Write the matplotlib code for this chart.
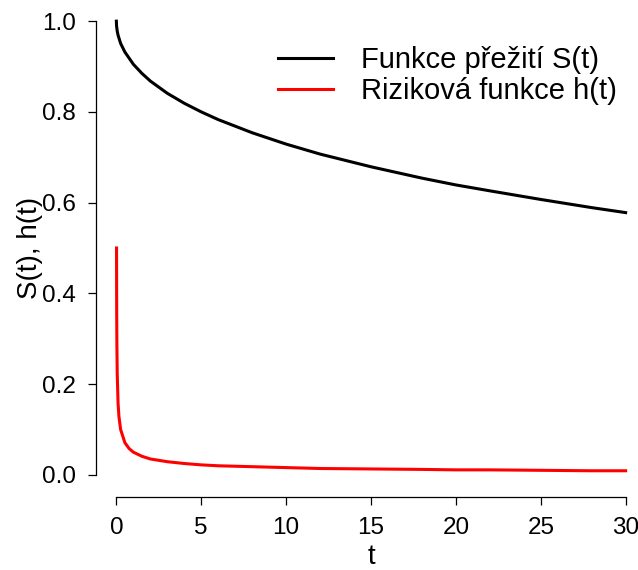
import matplotlib.pyplot as plt

# values
t_surv = [0, 0.01, 0.05, 0.1, 0.25, 0.5, 1, 1.5, 2, 3, 4, 5, 6, 8, 10, 12,
          15, 18, 20, 22, 25, 28, 30]
s_vals = [1.0, 0.990, 0.978, 0.969, 0.951, 0.932, 0.905, 0.885, 0.868, 0.841,
          0.819, 0.800, 0.783, 0.754, 0.729, 0.707, 0.679, 0.654, 0.639,
          0.626, 0.607, 0.589, 0.578]

t_haz = [0.01, 0.015, 0.02, 0.03, 0.05, 0.1, 0.15, 0.25, 0.5, 0.75, 1, 1.5,
         2, 3, 4, 5, 6, 8, 10, 12, 15, 18, 20, 22, 25, 28, 30]
h_vals = [0.500, 0.408, 0.354, 0.289, 0.224, 0.158, 0.129, 0.100, 0.071,
          0.058, 0.050, 0.041, 0.035, 0.029, 0.025, 0.022, 0.020, 0.018,
          0.016, 0.014, 0.013, 0.012, 0.011, 0.011, 0.010, 0.009, 0.009]

x_ticks = [0, 5, 10, 15, 20, 25, 30]
y_ticks = [0.0, 0.2, 0.4, 0.6, 0.8, 1.0]

plt.rcParams["font.family"] = ["Liberation Sans", "DejaVu Sans"]

fig = plt.figure(figsize=(6.38, 5.70), dpi=100)
ax = fig.add_axes([96 / 638, 1 - 493 / 570, 550 / 638, 490 / 570])

ax.plot(t_surv, s_vals, color="black", linewidth=2.2, label="Funkce přežití S(t)")
ax.plot(t_haz, h_vals, color="red", linewidth=2.2, label="Riziková funkce h(t)")

ax.set_xlim(-1.2, 31.2)
ax.set_ylim(-0.04, 1.04)
ax.set_xticks(x_ticks)
ax.set_yticks(y_ticks)
ax.set_yticklabels([f"{v:.1f}" for v in y_ticks])

for side in ("top", "right"):
    ax.spines[side].set_visible(False)
ax.spines["left"].set_bounds(0, 1)
ax.spines["bottom"].set_bounds(0, 30)
ax.spines["bottom"].set_position(("outward", 3))
for side in ("left", "bottom"):
    ax.spines[side].set_linewidth(0.9)

ax.tick_params(labelsize=17.5, length=6, width=0.9)
ax.tick_params(axis="x", pad=8.5)
ax.tick_params(axis="y", pad=8.5)
ax.set_xlabel("t", fontsize=20, labelpad=3.5)
ax.set_ylabel("S(t), h(t)", fontsize=20, labelpad=-1)

ax.legend(loc="upper left", bbox_to_anchor=(278 / 638, 1 - 46 / 570),
          bbox_transform=fig.transFigure, frameon=False, fontsize=21,
          handlelength=1.9, handletextpad=0.95, labelspacing=0.1,
          borderpad=0, borderaxespad=0)

fig.savefig("out.png", dpi=100)
